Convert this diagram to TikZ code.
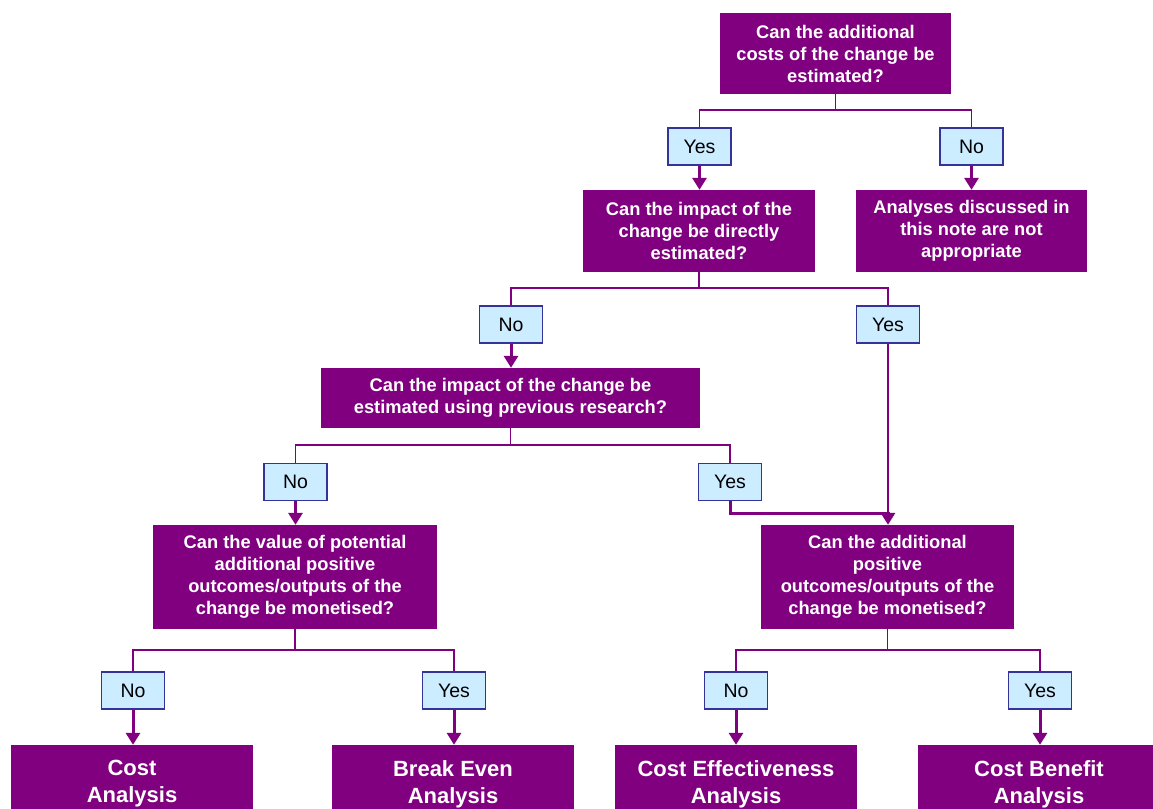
\documentclass[tikz,border=0pt]{standalone}
\usepackage{fontspec}
\setmainfont{Liberation Sans}
\usetikzlibrary{arrows.meta}
\definecolor{plum}{RGB}{128,0,128}
\definecolor{paleblue}{RGB}{204,236,255}
\definecolor{edgeblue}{RGB}{51,51,153}
\begin{document}
\begin{tikzpicture}[x=1pt, y=-1pt,
        question/.style={rectangle, fill=plum, text=white, align=center, inner sep=2pt,
            font=\fontsize{18.3}{22}\selectfont\bfseries},
        answer/.style={rectangle, fill=paleblue, draw=edgeblue, line width=1.5pt,
            minimum width=63pt, minimum height=37pt, inner sep=0pt,
            font=\fontsize{19.5}{22}\selectfont},
        result/.style={rectangle, fill=plum, text=white, align=center,
            minimum width=242pt, minimum height=78pt,
            font=\fontsize{22}{27}\selectfont\bfseries},
        line/.style={draw=plum, line width=1.8pt},
        arrow/.style={draw=plum, line width=3pt, line join=miter,
            -{Triangle[length=12pt, width=14pt]}}
    ]
    \clip (0,0) rectangle (1153,808);
    % questions
    \node[question, minimum width=231pt, minimum height=81pt] (q1) at (835.5,53.5)
        {Can the additional\\costs of the change be\\estimated?};
    \node[question, minimum width=232pt, minimum height=82pt] (q2) at (699,231)
        {Can the impact of the\\change be directly\\estimated?};
    \node[question, minimum width=231pt, minimum height=82pt] (notapt) at (971.5,231)
        {Analyses discussed in\\this note are not\\appropriate};
    \node[question, minimum width=379pt, minimum height=60pt] (q3) at (510.5,398)
        {Can the impact of the change be\\estimated using previous research?};
    \node[question, minimum width=284pt, minimum height=104pt] (q4l) at (295,577)
        {Can the value of potential\\additional positive\\outcomes/outputs of the\\change be monetised?};
    \node[question, minimum width=253pt, minimum height=104pt] (q4r) at (887.5,577)
        {Can the additional\\positive\\outcomes/outputs of the\\change be monetised?};
    % answers
    \node[answer] (yes1) at (699.5,146.5) {Yes};
    \node[answer] (no1) at (971.5,146.5) {No};
    \node[answer] (no2) at (511,324.5) {No};
    \node[answer] (yes2) at (888,324.5) {Yes};
    \node[answer] (no3) at (295.5,482) {No};
    \node[answer] (yes3) at (730,482) {Yes};
    \node[answer] (no4) at (133,690.5) {No};
    \node[answer] (yes4) at (454,690.5) {Yes};
    \node[answer] (no5) at (736,690.5) {No};
    \node[answer] (yes5) at (1040,690.5) {Yes};
    % results
    \node[result] (cost) at (132,784) {Cost\\Analysis};
    \node[result] (breakeven) at (453,784) {Break Even\\Analysis};
    \node[result] (costeff) at (736,784) {Cost Effectiveness\\Analysis};
    \node[result] (costben) at (1039,784) {Cost Benefit\\Analysis};
    % splits
    \coordinate (s1) at (835.5,110);
    \coordinate (s2) at (699,288);
    \coordinate (s3) at (510.5,445);
    \coordinate (s4) at (295,650);
    \coordinate (s5) at (887.5,650);
    \coordinate (j1) at (888,513);
    \draw[line] (q1.south) -- (s1) -| (yes1.north);
    \draw[line] (s1) -| (no1.north);
    \draw[line] (q2.south) -- (s2) -| (no2.north);
    \draw[line] (s2) -| (yes2.north);
    \draw[line] (q3.south) -- (s3) -| (no3.north);
    \draw[line] (s3) -| (yes3.north);
    \draw[line] (q4l.south) -- (s4) -| (no4.north);
    \draw[line] (s4) -| (yes4.north);
    \draw[line] (q4r.south) -- (s5) -| (no5.north);
    \draw[line] (s5) -| (yes5.north);
    \draw[line] (yes2.south) -- (j1);
    % arrows
    \draw[arrow] (yes1.south) -- (yes1.south |- q2.north);
    \draw[arrow] (no1.south) -- (no1.south |- notapt.north);
    \draw[arrow] (no2.south) -- (no2.south |- q3.north);
    \draw[arrow] (no3.south) -- (no3.south |- q4l.north);
    \draw[arrow] (yes3.south) |- (j1) -- (j1 |- q4r.north);
    \draw[arrow] (no4.south) -- (no4.south |- cost.north);
    \draw[arrow] (yes4.south) -- (yes4.south |- breakeven.north);
    \draw[arrow] (no5.south) -- (no5.south |- costeff.north);
    \draw[arrow] (yes5.south) -- (yes5.south |- costben.north);
\end{tikzpicture}
\end{document}
